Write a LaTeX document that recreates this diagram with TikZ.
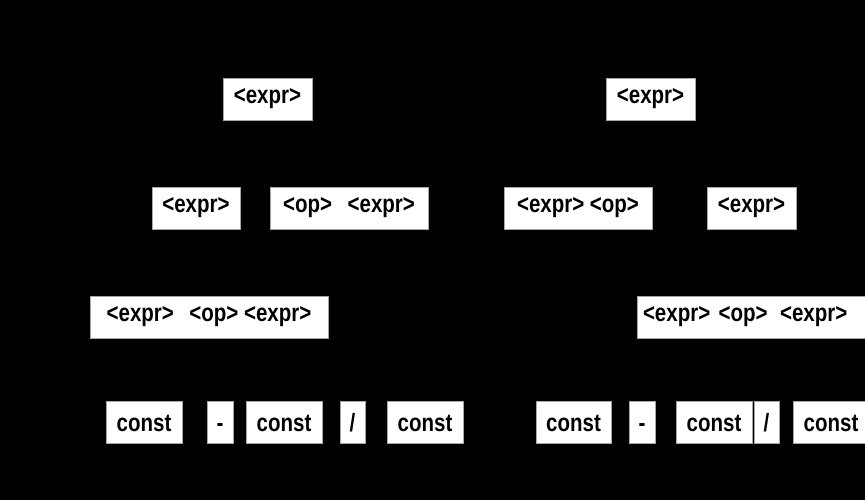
\documentclass[tikz,border=0pt]{standalone}
\usepackage{fontspec}
\setmainfont[FakeStretch=0.82]{Liberation Sans}
\usepackage{tikz}
\usetikzlibrary{positioning}

\begin{document}
\begin{tikzpicture}[x=1pt,y=-1pt,
    sym/.style={draw=gray!70,fill=white,line width=0.8pt,inner sep=0pt,
      minimum height=42pt,font=\fontsize{25}{28}\selectfont\bfseries},
    leaf/.style={sym,text height=18pt,text depth=0pt}]
    \fill[black] (0,0) rectangle (865,500);
    \useasboundingbox (0,0) rectangle (865,500);
    \clip (0,0) rectangle (865,500);
    % top
    \node[sym,minimum width=89pt] (e_0) at (267.5,99) {<expr>};
    \node[sym,minimum width=89pt] (e_1) at (650.5,99) {<expr>};
    % second row
    \node[sym,minimum width=88pt]  (e_2) at (196,208)   {<expr>};
    \node[sym,minimum width=158pt] (e_3) at (349,208)   {<op>\ \ \,<expr>};
    \node[sym,minimum width=148pt] (e_4) at (578,208)   {<expr> <op>};
    \node[sym,minimum width=89pt]  (e_5) at (751.5,208) {<expr>};
    % third row
    \node[sym,minimum width=238pt] (e_6) at (209,317)   {<expr>\ \ \,<op> <expr>};
    \node[sym,minimum width=233pt,text width=221pt] (e_7) at (753.5,317) {<expr> <op> \,<expr>};
    % leaves
    \node[leaf,minimum width=76pt] (c_0) at (144,422)   {const};
    \node[leaf,minimum width=26pt] (o_0) at (220,422)   {-};
    \node[leaf,minimum width=76pt] (c_1) at (284,422)   {const};
    \node[leaf,minimum width=25pt] (o_1) at (352.5,422) {/};
    \node[leaf,minimum width=76pt] (c_2) at (425,422)   {const};
    \node[leaf,minimum width=75pt] (c_3) at (573.5,422) {const};
    \node[leaf,minimum width=26pt] (o_2) at (642,422)   {-};
    \node[leaf,minimum width=76pt] (c_4) at (714,422)   {const};
    \node[leaf,minimum width=25pt] (o_3) at (766.5,422) {/};
    \node[leaf,minimum width=76pt] (c_5) at (831,422)   {const};
\end{tikzpicture}
\end{document}
